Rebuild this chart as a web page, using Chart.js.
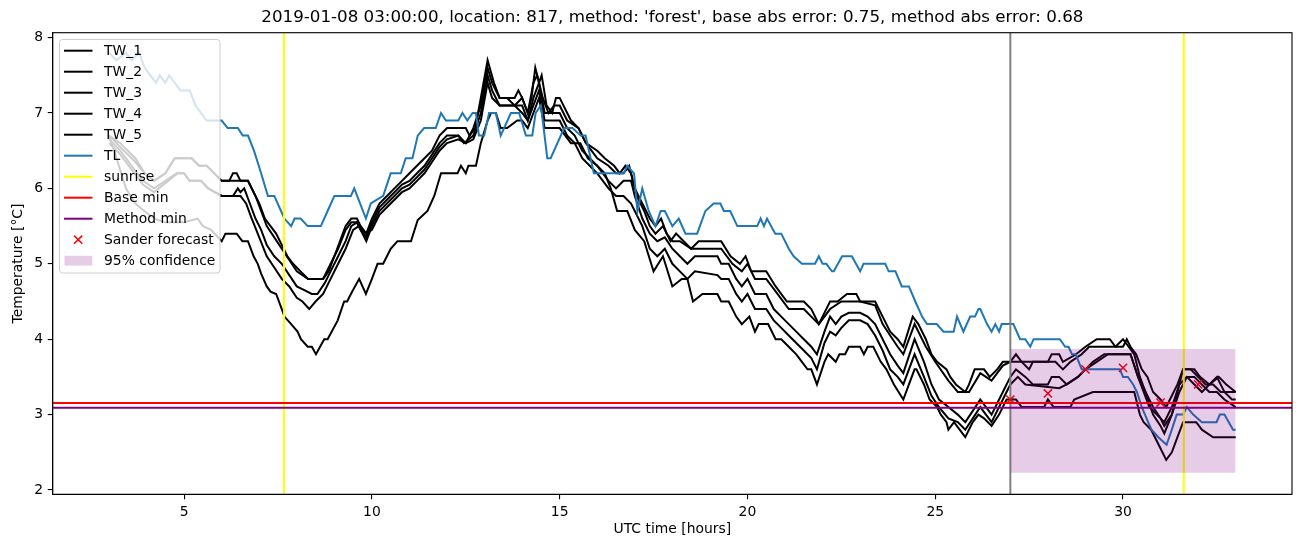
<!DOCTYPE html>
<html>
<head>
<meta charset="utf-8">
<script src="https://cdn.jsdelivr.net/npm/chart.js@4.4.1/dist/chart.umd.min.js"></script>
<style>
  html, body { margin: 0; padding: 0; background: #fff; }
  canvas { display: block; }
</style>
</head>
<body>
<canvas id="chart" width="1302" height="547"></canvas>
<script>
// texts
const title = "2019-01-08 03:00:00, location: 817, method: 'forest', base abs error: 0.75, method abs error: 0.68";
const xLabel = 'UTC time [hours]';
const yLabel = 'Temperature [°C]';

// axis
const xTicks = [5, 10, 15, 20, 25, 30];
const yTicks = [2, 3, 4, 5, 6, 7, 8];
const xMin = 1.5, xMax = 34.5;
const yMin = 1.943, yMax = 8.065;

// road sensor series, [hour, temperature]
const tw1 = [[3.0,6.7],[3.3,6.6],[3.7,6.4],[3.95,6.2],[4.2,6.1],[4.5,6.2],[4.75,6.4],[5.2,6.4],[5.4,6.3],[5.6,6.3],[5.8,6.2],[6.0,6.1],[6.2,6.1],[6.3,6.2],[6.4,6.2],[6.5,6.1],[6.7,6.1],[6.9,5.9],[7.0,5.8],[7.15,5.6],[7.3,5.5],[7.45,5.4],[7.6,5.25],[7.75,5.1],[7.9,5.0],[8.1,4.9],[8.3,4.8],[8.7,4.8],[8.85,4.9],[9.0,5.1],[9.15,5.3],[9.3,5.5],[9.45,5.6],[9.6,5.6],[9.7,5.5],[9.85,5.4],[10.0,5.6],[10.2,5.8],[10.4,5.9],[10.6,6.0],[10.8,6.1],[11.0,6.2],[11.2,6.3],[11.4,6.4],[11.6,6.5],[11.8,6.7],[12.0,6.8],[12.5,6.8],[12.6,6.7],[12.75,6.8],[12.9,7.2],[13.08,7.7],[13.25,7.4],[13.4,7.2],[13.8,7.2],[13.9,7.3],[14.0,7.2],[14.15,7.0],[14.25,7.2],[14.35,7.6],[14.45,7.4],[14.52,7.5],[14.65,7.1],[14.8,7.0],[14.9,7.2],[15.0,7.2],[15.2,7.0],[15.3,6.9],[15.5,6.8],[15.7,6.6],[16.0,6.5],[16.2,6.4],[16.45,6.3],[16.6,6.2],[16.75,6.3],[16.9,6.2],[17.05,5.9],[17.25,5.7],[17.4,5.5],[17.55,5.4],[17.75,5.5],[17.95,5.3],[18.1,5.4],[18.3,5.3],[18.5,5.2],[18.7,5.3],[19.3,5.3],[19.55,5.1],[19.8,5.0],[19.95,5.1],[20.1,4.9],[20.5,4.9],[20.75,4.7],[21.05,4.5],[21.5,4.5],[21.7,4.4],[21.9,4.2],[22.2,4.5],[22.4,4.5],[22.65,4.6],[22.9,4.6],[23.0,4.5],[23.4,4.5],[23.6,4.3],[23.8,4.1],[24.0,4.0],[24.15,3.9],[24.4,4.3],[24.55,4.2],[24.75,4.0],[24.9,3.8],[25.05,3.7],[25.3,3.6],[25.4,3.5],[25.55,3.4],[25.8,3.3],[25.9,3.4],[26.05,3.6],[26.3,3.6],[26.45,3.5],[26.65,3.6],[26.8,3.7],[27.0,3.7],[27.15,3.8],[27.3,3.7],[28.0,3.7],[28.1,3.8],[28.3,3.8],[28.4,3.7],[28.75,3.8],[29.0,3.9],[29.3,4.0],[29.65,4.0],[29.8,3.9],[30.0,3.9],[30.1,4.0],[30.2,3.9],[30.35,3.8],[30.5,3.6],[30.65,3.5],[30.8,3.3],[31.0,3.2],[31.15,3.1],[31.3,3.25],[31.45,3.4],[31.6,3.6],[31.9,3.6],[32.05,3.5],[32.3,3.4],[32.55,3.5],[32.75,3.4],[33.0,3.3]];
const tw2 = [[3.0,6.7],[3.3,6.55],[3.7,6.35],[3.95,6.2],[4.2,6.1],[4.5,6.2],[4.75,6.4],[5.2,6.4],[5.4,6.3],[5.6,6.3],[5.8,6.2],[6.0,6.1],[6.7,6.1],[6.9,5.9],[7.05,5.7],[7.2,5.5],[7.4,5.35],[7.6,5.2],[7.8,5.05],[8.0,4.9],[8.3,4.8],[8.7,4.8],[8.9,5.0],[9.1,5.2],[9.3,5.45],[9.45,5.55],[9.6,5.55],[9.7,5.45],[9.85,5.35],[10.0,5.55],[10.2,5.75],[10.4,5.85],[10.6,5.95],[10.8,6.05],[11.0,6.1],[11.2,6.2],[11.4,6.3],[11.6,6.45],[11.8,6.6],[12.0,6.7],[12.3,6.7],[12.5,6.6],[12.7,6.8],[12.9,7.1],[13.08,7.6],[13.2,7.4],[13.4,7.2],[13.6,7.2],[13.8,7.1],[14.0,7.2],[14.15,7.0],[14.3,7.4],[14.4,7.5],[14.55,7.2],[14.7,7.0],[14.85,7.1],[15.0,7.1],[15.2,6.9],[15.5,6.8],[15.7,6.6],[16.0,6.4],[16.3,6.3],[16.5,6.2],[16.7,6.2],[16.85,6.3],[17.0,6.0],[17.2,5.8],[17.4,5.6],[17.55,5.5],[17.7,5.6],[17.85,5.4],[18.0,5.3],[18.2,5.3],[18.5,5.2],[19.3,5.2],[19.6,5.0],[19.85,4.9],[20.0,5.0],[20.2,4.8],[20.5,4.8],[20.8,4.6],[21.1,4.4],[21.5,4.4],[21.7,4.3],[21.9,4.2],[22.2,4.4],[22.5,4.5],[23.0,4.5],[23.4,4.45],[23.6,4.2],[23.8,4.05],[24.0,3.9],[24.15,3.8],[24.45,4.2],[24.75,3.9],[25.0,3.7],[25.35,3.45],[25.6,3.3],[25.9,3.3],[26.2,3.55],[26.5,3.45],[26.8,3.65],[27.0,3.7],[27.3,3.7],[27.5,3.6],[27.6,3.7],[28.2,3.7],[28.4,3.6],[28.6,3.7],[28.9,3.8],[29.1,3.9],[29.8,3.9],[30.0,4.0],[30.15,3.9],[30.3,3.8],[30.45,3.5],[30.6,3.3],[30.8,3.0],[31.0,2.85],[31.1,2.75],[31.3,3.0],[31.45,3.3],[31.6,3.6],[31.8,3.6],[32.0,3.5],[32.2,3.4],[32.4,3.4],[32.6,3.3],[33.0,3.3]];
const tw3 = [[3.0,6.65],[3.3,6.5],[3.6,6.3],[3.9,6.1],[4.2,6.0],[4.5,6.1],[4.8,6.2],[5.0,6.2],[5.15,6.1],[5.45,6.1],[5.65,6.0],[6.0,5.9],[6.3,5.9],[6.43,6.0],[6.5,5.95],[6.6,6.0],[6.75,5.8],[6.9,5.6],[7.05,5.45],[7.2,5.25],[7.4,5.1],[7.6,5.0],[7.8,4.85],[8.0,4.7],[8.2,4.65],[8.4,4.6],[8.55,4.6],[8.75,4.75],[8.9,4.9],[9.1,5.1],[9.3,5.3],[9.45,5.5],[9.6,5.55],[9.75,5.4],[9.85,5.3],[10.0,5.5],[10.2,5.7],[10.4,5.8],[10.6,5.9],[10.8,6.0],[11.0,6.05],[11.2,6.15],[11.4,6.25],[11.6,6.4],[11.8,6.55],[12.0,6.65],[12.3,6.7],[12.45,6.6],[12.7,6.7],[12.9,7.0],[13.08,7.5],[13.2,7.3],[13.4,7.1],[14.0,7.1],[14.15,6.9],[14.3,7.2],[14.45,7.4],[14.6,7.0],[15.0,7.0],[15.2,6.8],[15.4,6.7],[15.6,6.5],[15.8,6.4],[16.0,6.3],[16.3,6.1],[16.5,6.0],[16.7,6.1],[16.9,6.1],[17.0,5.9],[17.2,5.6],[17.4,5.4],[17.6,5.3],[17.8,5.35],[18.0,5.2],[18.2,5.1],[18.4,5.0],[18.6,5.1],[19.2,5.1],[19.3,5.0],[19.5,5.0],[19.7,4.8],[19.85,4.7],[20.0,4.8],[20.2,4.6],[20.5,4.6],[20.7,4.4],[20.9,4.3],[21.1,4.2],[21.3,4.1],[21.5,4.0],[21.7,3.9],[21.85,3.8],[22.05,4.1],[22.2,4.3],[22.35,4.2],[22.5,4.3],[22.7,4.35],[23.0,4.35],[23.2,4.3],[23.4,4.2],[23.6,4.0],[23.8,3.8],[24.0,3.65],[24.15,3.55],[24.45,4.0],[24.7,3.7],[24.9,3.4],[25.1,3.2],[25.35,3.1],[25.6,3.0],[25.8,2.9],[26.0,3.05],[26.2,3.2],[26.5,3.0],[26.8,3.3],[27.0,3.5],[27.15,3.6],[27.4,3.5],[27.6,3.4],[28.0,3.4],[28.1,3.5],[28.3,3.5],[28.5,3.4],[28.8,3.5],[29.0,3.6],[29.2,3.7],[29.5,3.8],[30.2,3.8],[30.4,3.5],[30.55,3.3],[30.7,3.1],[30.9,3.0],[31.1,2.9],[31.3,3.1],[31.5,3.4],[31.7,3.5],[31.9,3.4],[32.1,3.3],[32.3,3.4],[32.5,3.5],[32.7,3.3],[32.9,3.2],[33.0,3.2]];
const tw4 = [[3.0,6.6],[3.3,6.45],[3.6,6.25],[3.9,6.05],[4.2,5.95],[4.57,6.1],[4.83,6.2],[5.0,6.2],[5.14,6.1],[5.45,6.1],[5.63,6.0],[6.0,5.9],[6.5,5.9],[6.65,5.8],[6.8,5.6],[7.0,5.35],[7.2,5.1],[7.4,4.95],[7.6,4.8],[7.8,4.7],[8.0,4.55],[8.15,4.5],[8.33,4.4],[8.5,4.5],[8.7,4.6],[8.9,4.8],[9.1,5.0],[9.3,5.2],[9.5,5.45],[9.65,5.5],[9.84,5.4],[10.0,5.45],[10.2,5.65],[10.4,5.75],[10.6,5.85],[10.8,5.95],[11.0,6.0],[11.2,6.1],[11.4,6.2],[11.6,6.35],[11.8,6.5],[12.0,6.6],[12.3,6.65],[12.5,6.6],[12.7,6.65],[12.9,6.9],[13.08,7.4],[13.2,7.2],[13.4,7.1],[13.8,7.1],[14.0,7.0],[14.15,6.9],[14.3,7.1],[14.45,7.3],[14.6,6.9],[15.0,6.9],[15.2,6.7],[15.4,6.6],[15.6,6.4],[15.8,6.3],[16.0,6.2],[16.3,6.0],[16.5,5.9],[16.7,5.9],[16.9,5.8],[17.0,5.7],[17.2,5.5],[17.4,5.2],[17.6,5.1],[17.8,5.2],[18.0,5.0],[18.2,4.9],[18.4,4.8],[18.6,4.9],[19.2,4.85],[19.3,4.8],[19.5,4.8],[19.7,4.6],[19.85,4.5],[20.0,4.6],[20.2,4.4],[20.5,4.4],[20.7,4.25],[20.9,4.15],[21.1,4.05],[21.3,3.95],[21.5,3.85],[21.7,3.75],[21.85,3.6],[22.05,3.95],[22.2,4.1],[22.35,4.05],[22.5,4.15],[22.7,4.25],[23.0,4.25],[23.2,4.2],[23.4,4.05],[23.6,3.85],[23.8,3.6],[24.0,3.5],[24.15,3.4],[24.45,3.8],[24.7,3.5],[24.9,3.25],[25.1,3.1],[25.35,2.95],[25.6,2.9],[25.8,2.8],[26.0,2.95],[26.2,3.1],[26.5,2.9],[26.8,3.2],[27.0,3.4],[27.2,3.5],[27.4,3.4],[28.3,3.35],[28.5,3.4],[28.8,3.5],[29.0,3.6],[29.3,3.7],[29.6,3.8],[30.2,3.8],[30.4,3.5],[30.6,3.3],[30.8,3.1],[31.0,2.95],[31.1,2.85],[31.3,3.0],[31.5,3.3],[31.7,3.5],[31.9,3.5],[32.1,3.4],[32.3,3.3],[32.5,3.3],[32.7,3.2],[33.0,3.1]];
const tw5 = [[3.0,6.7],[3.2,6.4],[3.45,6.0],[3.7,5.8],[3.94,5.7],[4.2,5.6],[4.5,5.55],[5.0,5.55],[5.36,5.6],[5.5,5.5],[5.72,5.45],[6.0,5.3],[6.1,5.4],[6.4,5.4],[6.55,5.3],[6.7,5.3],[6.85,5.1],[6.96,5.0],[7.05,4.87],[7.2,4.7],[7.3,4.63],[7.45,4.6],[7.6,4.4],[7.67,4.3],[7.85,4.2],[8.02,4.1],[8.11,4.0],[8.29,3.9],[8.4,3.9],[8.51,3.8],[8.73,4.0],[8.82,4.0],[9.09,4.25],[9.26,4.5],[9.34,4.5],[9.44,4.6],[9.66,4.8],[9.84,4.6],[10.0,4.8],[10.15,5.0],[10.3,5.0],[10.5,5.2],[10.68,5.3],[11.04,5.3],[11.22,5.58],[11.48,5.7],[11.66,5.9],[11.84,6.2],[12.28,6.2],[12.37,6.3],[12.5,6.2],[12.57,6.3],[12.77,6.3],[12.9,6.6],[13.08,6.9],[13.17,7.0],[13.3,7.0],[13.43,6.8],[13.6,6.8],[13.87,6.9],[14.0,6.9],[14.15,6.8],[14.3,7.0],[14.45,7.2],[14.6,6.8],[15.0,6.8],[15.3,6.6],[15.55,6.6],[15.75,6.4],[16.0,6.3],[16.2,6.2],[16.36,6.0],[16.53,5.7],[16.8,5.7],[17.0,5.45],[17.25,5.3],[17.5,4.9],[17.75,5.1],[18.0,4.7],[18.25,4.8],[18.4,4.8],[18.55,4.5],[18.8,4.6],[19.2,4.6],[19.3,4.5],[19.5,4.5],[19.7,4.3],[19.85,4.2],[20.05,4.3],[20.2,4.1],[20.3,4.2],[20.55,4.2],[20.75,4.0],[20.9,4.0],[21.1,3.9],[21.3,3.8],[21.45,3.7],[21.6,3.6],[21.7,3.6],[21.85,3.4],[22.05,3.7],[22.15,3.8],[22.35,3.7],[22.45,3.8],[22.6,3.8],[22.7,3.9],[23.0,3.9],[23.1,3.8],[23.2,3.9],[23.35,3.9],[23.55,3.7],[23.7,3.6],[23.9,3.4],[24.15,3.2],[24.3,3.4],[24.45,3.6],[24.5,3.6],[24.7,3.4],[24.85,3.2],[25.05,3.1],[25.15,3.0],[25.3,2.9],[25.35,2.8],[25.5,2.9],[25.65,2.8],[25.8,2.7],[26.0,2.9],[26.15,3.0],[26.3,2.95],[26.5,2.85],[26.7,3.0],[26.9,3.2],[27.0,3.2],[27.15,3.2],[27.3,3.1],[27.9,3.1],[28.0,3.2],[28.15,3.1],[28.6,3.1],[28.7,3.2],[29.2,3.3],[30.3,3.3],[30.45,3.0],[30.55,2.9],[30.75,2.8],[30.95,2.6],[31.15,2.4],[31.3,2.5],[31.45,2.7],[31.6,2.9],[31.95,2.9],[32.1,2.8],[32.4,2.7],[33.0,2.7]];

// air temperature
const tl = [[3.0,7.8],[3.2,7.7],[3.45,7.8],[3.6,7.7],[3.8,7.8],[3.95,7.6],[4.1,7.5],[4.25,7.4],[4.35,7.5],[4.5,7.4],[4.6,7.5],[4.75,7.4],[4.9,7.3],[5.15,7.3],[5.3,7.1],[5.45,7.0],[5.6,6.9],[6.0,6.9],[6.16,6.8],[6.43,6.8],[6.56,6.7],[6.7,6.7],[6.86,6.5],[7.05,6.2],[7.23,5.9],[7.4,5.9],[7.58,5.7],[7.67,5.6],[7.85,5.5],[7.94,5.6],[8.1,5.6],[8.29,5.5],[8.64,5.5],[8.82,5.7],[9.0,5.9],[9.44,5.9],[9.53,6.0],[9.84,5.6],[9.97,5.8],[10.3,5.9],[10.5,6.2],[10.77,6.2],[10.9,6.4],[11.08,6.4],[11.22,6.7],[11.39,6.8],[11.7,6.8],[11.84,7.0],[11.97,6.9],[12.3,6.9],[12.41,7.0],[12.54,6.9],[12.68,7.0],[12.77,7.0],[12.85,6.7],[12.99,6.7],[13.12,7.0],[13.3,7.0],[13.43,6.7],[13.7,7.0],[13.92,7.0],[14.1,6.7],[14.27,6.7],[14.36,7.0],[14.5,7.1],[14.67,6.4],[14.76,6.4],[15.12,6.8],[15.34,6.8],[15.56,6.7],[15.69,6.7],[15.91,6.2],[16.71,6.2],[16.8,6.3],[16.98,6.2],[17.07,5.7],[17.2,6.0],[17.37,5.7],[17.55,5.5],[17.69,5.7],[17.8,5.7],[18.0,5.5],[18.17,5.6],[18.35,5.4],[18.66,5.4],[18.88,5.7],[19.1,5.8],[19.28,5.8],[19.37,5.7],[19.54,5.7],[19.73,5.5],[20.26,5.5],[20.35,5.6],[20.44,5.5],[20.52,5.6],[20.74,5.4],[20.9,5.4],[21.1,5.2],[21.23,5.1],[21.45,5.0],[21.8,5.0],[21.9,5.1],[22.0,5.0],[22.1,5.0],[22.25,4.9],[22.3,4.9],[22.52,5.1],[22.78,5.1],[23.0,4.9],[23.09,5.0],[23.67,5.0],[23.76,4.9],[23.94,4.9],[24.11,4.7],[24.3,4.7],[24.47,4.5],[24.65,4.3],[24.78,4.2],[25.04,4.2],[25.22,4.1],[25.49,4.1],[25.58,4.3],[25.75,4.1],[25.93,4.3],[26.06,4.3],[26.15,4.4],[26.2,4.4],[26.38,4.2],[26.5,4.1],[26.6,4.2],[26.7,4.1],[26.77,4.2],[27.08,4.2],[27.26,4.0],[27.4,4.0],[27.53,3.9],[27.62,4.0],[28.32,4.0],[28.46,3.9],[28.55,3.9],[28.64,3.8],[28.74,3.8],[28.9,3.6],[29.92,3.6],[30.0,3.5],[30.13,3.5],[30.27,3.4],[30.37,3.3],[30.5,3.1],[30.67,2.9],[30.76,2.8],[30.94,2.7],[31.16,2.6],[31.3,2.8],[31.43,3.0],[31.6,3.0],[31.7,3.1],[31.87,3.0],[32.1,2.9],[32.49,2.9],[32.58,3.0],[32.7,3.0],[32.93,2.8],[33.0,2.8]];

// markers and references
const sunriseHours = [7.66, 31.62];
const nowHour = 27.0;
const baseMin = 3.155;
const methodMin = 3.09;
const sanderHours = [27, 28, 29, 30, 31, 32];
const sanderTemps = [3.2, 3.28, 3.6, 3.62, 3.16, 3.4];
const confHours = [27, 33];
const confLow = 2.23;
const confHigh = 3.87;

const pts = arr => arr.map(([x, y]) => ({ x, y }));
const vline = h => [{ x: h, y: yMin }, { x: h, y: yMax }];
const hline = v => [{ x: xMin, y: v }, { x: xMax, y: v }];

const sunrisePts = [];
sunriseHours.forEach((h, i) => {
  if (i > 0) sunrisePts.push({ x: h - 0.01, y: null });
  sunrisePts.push(...vline(h));
});

const FONT = '"DejaVu Sans", sans-serif';

function lineSet(label, data, color, order) {
  return {
    label, data, borderColor: color, backgroundColor: color,
    borderWidth: 2, pointRadius: 0, tension: 0, fill: false, order,
    legendKind: 'line'
  };
}

const datasets = [
  lineSet('TW_1', pts(tw1), '#000000', 20),
  lineSet('TW_2', pts(tw2), '#000000', 19),
  lineSet('TW_3', pts(tw3), '#000000', 18),
  lineSet('TW_4', pts(tw4), '#000000', 17),
  lineSet('TW_5', pts(tw5), '#000000', 16),
  lineSet('TL', pts(tl), '#1f77b4', 15),
  lineSet('sunrise', sunrisePts, '#ffff00', 14),
  Object.assign(lineSet('', vline(nowHour), '#808080', 13), { legendKind: null }),
  lineSet('Base min', hline(baseMin), '#ff0000', 12),
  lineSet('Method min', hline(methodMin), '#800080', 11),
  {
    label: 'Sander forecast',
    data: sanderHours.map((h, i) => ({ x: h, y: sanderTemps[i] })),
    showLine: false, pointStyle: 'crossRot', pointRadius: 5.8, pointBorderWidth: 1.5,
    borderColor: '#ff0000', backgroundColor: '#ff0000', order: 10,
    legendKind: 'cross'
  },
  {
    label: '95% confidence',
    data: confHours.map(h => ({ x: h, y: confHigh })),
    fill: { value: confLow }, backgroundColor: 'rgba(128,0,128,0.2)',
    borderWidth: 0, pointRadius: 0, tension: 0, order: 0,
    legendKind: 'patch'
  }
];

function drawLegend(chart) {
  const ctx = chart.ctx;
  const items = chart.data.datasets.filter(d => d.legendKind);
  const x0 = 59.5, y0 = 39.5, w = 160.5, h = 233.5, r = 3;
  ctx.save();
  ctx.beginPath();
  ctx.moveTo(x0 + r, y0);
  ctx.arcTo(x0 + w, y0, x0 + w, y0 + h, r);
  ctx.arcTo(x0 + w, y0 + h, x0, y0 + h, r);
  ctx.arcTo(x0, y0 + h, x0, y0, r);
  ctx.arcTo(x0, y0, x0 + w, y0, r);
  ctx.closePath();
  ctx.fillStyle = 'rgba(255,255,255,0.8)';
  ctx.fill();
  ctx.strokeStyle = '#cccccc';
  ctx.lineWidth = 1;
  ctx.stroke();

  ctx.font = '13.9px ' + FONT;
  ctx.textBaseline = 'middle';
  ctx.textAlign = 'left';
  items.forEach((d, i) => {
    const y = 50.7 + i * 21;
    if (d.legendKind === 'line') {
      ctx.strokeStyle = d.borderColor;
      ctx.lineWidth = 2;
      ctx.beginPath();
      ctx.moveTo(64, y);
      ctx.lineTo(92.5, y);
      ctx.stroke();
    } else if (d.legendKind === 'cross') {
      ctx.strokeStyle = d.borderColor;
      ctx.lineWidth = 1.5;
      ctx.beginPath();
      ctx.moveTo(74.1, y - 4.1); ctx.lineTo(82.3, y + 4.1);
      ctx.moveTo(82.3, y - 4.1); ctx.lineTo(74.1, y + 4.1);
      ctx.stroke();
    } else if (d.legendKind === 'patch') {
      ctx.fillStyle = d.backgroundColor;
      ctx.fillRect(64.5, y - 4.9, 27.8, 9.8);
    }
    ctx.fillStyle = '#000';
    ctx.fillText(d.label, 104, y + 0.5);
  });
  ctx.restore();
}

const mplDecor = {
  id: 'mplDecor',
  afterDraw(chart) {
    const { ctx, chartArea: a } = chart;
    ctx.save();
    ctx.strokeStyle = '#000';
    ctx.lineWidth = 1.1;
    ctx.strokeRect(a.left, a.top, a.right - a.left, a.bottom - a.top);
    ctx.fillStyle = '#000';
    ctx.textAlign = 'center';
    ctx.textBaseline = 'middle';
    ctx.font = '16.7px ' + FONT;
    ctx.fillText(title, (a.left + a.right) / 2, 18);
    ctx.font = '13.9px ' + FONT;
    ctx.fillText(xLabel, (a.left + a.right) / 2, 529);
    ctx.translate(18, (a.top + a.bottom) / 2);
    ctx.rotate(-Math.PI / 2);
    ctx.fillText(yLabel, 0, 0);
    ctx.restore();
    drawLegend(chart);
  }
};

const axisCommon = {
  type: 'linear',
  grid: { display: true, drawOnChartArea: false, drawTicks: true, tickLength: 5, color: '#000', lineWidth: 1.1 },
  border: { display: true, color: '#000', width: 1.1 },
  ticks: { color: '#000', font: { family: FONT, size: 13.9 }, padding: 4.5, callback: v => String(v) }
};

new Chart(document.getElementById('chart'), {
  type: 'line',
  data: { datasets },
  options: {
    responsive: false,
    animation: false,
    layout: { padding: { left: 0, right: 10, top: 32.7, bottom: 0 } },
    plugins: { legend: { display: false }, tooltip: { enabled: false }, title: { display: false } },
    scales: {
      x: Object.assign({}, axisCommon, {
        min: xMin, max: xMax,
        afterBuildTicks: s => { s.ticks = xTicks.map(v => ({ value: v })); },
        afterFit: s => { s.height = 52.7; }
      }),
      y: Object.assign({}, axisCommon, {
        min: yMin, max: yMax,
        afterBuildTicks: s => { s.ticks = yTicks.map(v => ({ value: v })); },
        afterFit: s => { s.width = 52.7; }
      })
    }
  },
  plugins: [mplDecor]
});
</script>
</body>
</html>
